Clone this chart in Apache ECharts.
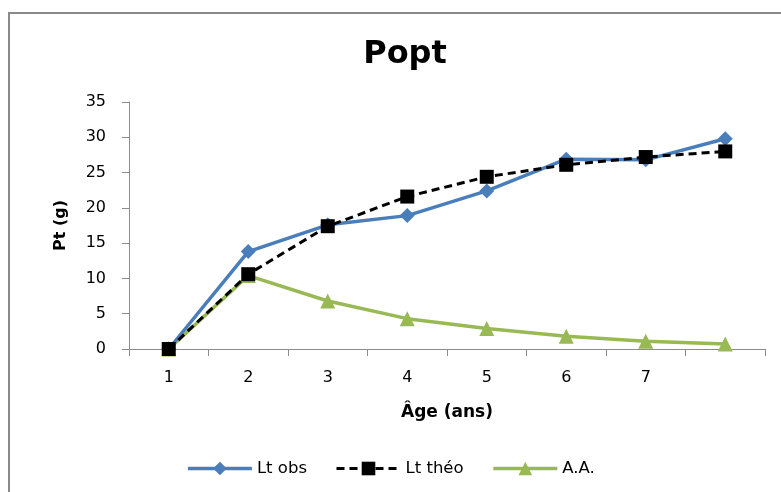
<!DOCTYPE html>
<html>
<head>
<meta charset="utf-8">
<script src="https://cdn.jsdelivr.net/npm/echarts@6/dist/echarts.min.js"></script>
<style>
  html, body { margin: 0; padding: 0; background: #fff; }
  #frame { position: absolute; left: 8px; top: 12px; width: 900px; height: 600px; border: 2px solid #8a8a8a; box-sizing: border-box; }
  #chart { position: absolute; left: 0; top: 0; width: 781px; height: 492px; }
</style>
</head>
<body>
<div id="frame"></div>
<div id="chart"></div>
<script>
// Age classes (the last class carries no label on the axis)
const ages = ['1', '2', '3', '4', '5', '6', '7', ''];
// Observed weight
const ltObs = [0, 13.8, 17.6, 18.9, 22.4, 26.9, 26.8, 29.8];
// Theoretical weight
const ltTheo = [0, 10.6, 17.4, 21.6, 24.4, 26.1, 27.2, 28.0];
// Annual increment
const aa = [0, 10.4, 6.8, 4.3, 2.9, 1.8, 1.1, 0.7];
const yTicks = { min: 0, max: 35, step: 5 };

const font = '"DejaVu Sans", Verdana, sans-serif';
const chart = echarts.init(document.getElementById('chart'));
chart.setOption({
  backgroundColor: 'transparent',
  animation: false,
  title: {
    text: 'Popt', left: 400, top: 34, textAlign: 'center',
    textStyle: { fontFamily: font, fontSize: 32, fontWeight: 'bold', color: '#000' }
  },
  legend: {
    bottom: 10, left: 'center', itemWidth: 64, itemHeight: 17, itemGap: 28,
    textStyle: { fontFamily: font, fontSize: 16.5, color: '#000' },
    data: [
      { name: 'Lt obs', lineStyle: { width: 3.5 } },
      { name: 'Lt théo', lineStyle: { width: 3 } },
      { name: 'A.A.', lineStyle: { width: 3.5 } }
    ]
  },
  grid: { left: 129, right: 16, top: 102, bottom: 143 },
  xAxis: {
    type: 'category', data: ages, boundaryGap: true,
    name: 'Âge (ans)', nameLocation: 'middle', nameGap: 55,
    nameTextStyle: { fontFamily: font, fontSize: 17, fontWeight: 'bold', color: '#000' },
    axisLine: { lineStyle: { color: '#8c8c8c', width: 1 } },
    axisTick: { show: true, length: 7, interval: 0, lineStyle: { color: '#8c8c8c' } },
    axisLabel: { margin: 21, fontFamily: font, fontSize: 16, color: '#000', interval: 0 },
    splitLine: { show: false }
  },
  yAxis: {
    type: 'value', min: yTicks.min, max: yTicks.max, interval: yTicks.step,
    name: 'Pt (g)', nameLocation: 'middle', nameGap: 60, nameRotate: 90,
    nameTextStyle: { fontFamily: font, fontSize: 16, fontWeight: 'bold', color: '#000' },
    axisLine: { show: true, lineStyle: { color: '#8c8c8c', width: 1 } },
    axisTick: { show: true, length: 7, lineStyle: { color: '#8c8c8c' } },
    axisLabel: { margin: 23, fontFamily: font, fontSize: 16, color: '#000' },
    splitLine: { show: false }
  },
  series: [
    {
      name: 'Lt obs', type: 'line', data: ltObs,
      symbol: 'diamond', symbolSize: 15,
      lineStyle: { color: '#4a7ebb', width: 3.5 },
      itemStyle: { color: '#4a7ebb' }, z: 3
    },
    {
      name: 'Lt théo', type: 'line', data: ltTheo,
      symbol: 'rect', symbolSize: 14,
      lineStyle: { color: '#000', width: 3, type: [8, 5] },
      itemStyle: { color: '#000' }, z: 4
    },
    {
      name: 'A.A.', type: 'line', data: aa,
      symbol: 'triangle', symbolSize: 15,
      lineStyle: { color: '#98b954', width: 3.5 },
      itemStyle: { color: '#98b954' }, z: 2
    }
  ]
});
</script>
</body>
</html>
